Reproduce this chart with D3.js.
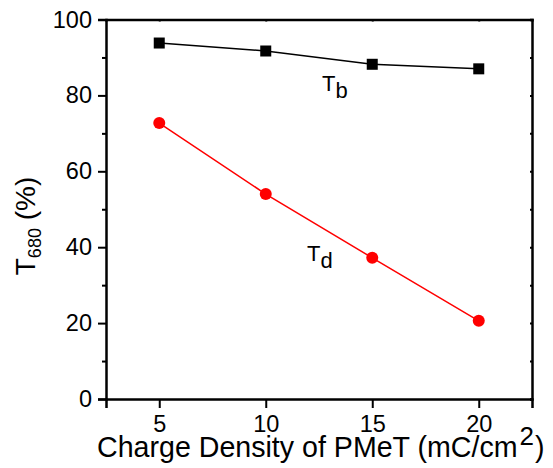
<!DOCTYPE html>
<html>
<head>
<meta charset="utf-8">
<script src="https://cdn.jsdelivr.net/npm/d3@7"></script>
<style>
  body { margin: 0; background: #fff; }
  text { font-family: "Liberation Sans", Arial, sans-serif; fill: #000; }
</style>
</head>
<body>
<div id="chart"></div>
<script>
var charge = [5, 10, 15, 20];
var tb = [93.8, 91.7, 88.2, 87.0];
var td = [72.7, 54.0, 37.2, 20.6];
var xTicks = [5, 10, 15, 20];
var yTicks = [0, 20, 40, 60, 80, 100];
var yMinor = [10, 30, 50, 70, 90];

var width = 553, height = 468;
var margin = {left: 106, right: 21, top: 19.5, bottom: 69};

var svg = d3.select("#chart").append("svg")
    .attr("width", width)
    .attr("height", height);

var x = d3.scaleLinear()
    .domain([2.5, 22.5])
    .range([margin.left, width - margin.right]);

var y = d3.scaleLinear()
    .domain([0, 100])
    .range([height - margin.bottom, margin.top]);

// axes
var gx = svg.append("g")
    .attr("transform", "translate(0," + y(0) + ")")
    .call(d3.axisBottom(x).tickValues(xTicks).tickSize(9).tickPadding(7).tickFormat(d3.format("d")));

var gy = svg.append("g")
    .attr("transform", "translate(" + x(2.5) + ",0)")
    .call(d3.axisLeft(y).tickValues(yTicks).tickSize(8).tickPadding(6).tickFormat(d3.format("d")));

var gyMinor = svg.append("g")
    .attr("transform", "translate(" + x(2.5) + ",0)")
    .call(d3.axisLeft(y).tickValues(yMinor).tickSize(4).tickFormat(""));

var gTop = svg.append("g")
    .attr("transform", "translate(0," + y(100) + ")")
    .call(d3.axisBottom(x).tickValues(xTicks).tickSize(2).tickFormat(""));

var gRight = svg.append("g")
    .attr("transform", "translate(" + x(22.5) + ",0)")
    .call(d3.axisLeft(y).tickValues(yTicks.concat(yMinor)).tickSize(2).tickFormat(""));

[gx, gy, gyMinor, gTop, gRight].forEach(function(g) {
    g.select(".domain").attr("stroke", "#000").attr("stroke-width", 2.5);
    g.selectAll(".tick line").attr("stroke", "#000").attr("stroke-width", 2);
    g.selectAll(".tick text").attr("font-size", 23.5).attr("fill", "#000")
        .attr("font-family", "Liberation Sans, Arial, sans-serif");
});
gyMinor.select(".domain").remove();

// lines
var line = d3.line().x(function(d, i) { return x(charge[i]); }).y(function(d) { return y(d); });

svg.append("path")
    .datum(tb)
    .attr("d", line)
    .attr("fill", "none")
    .attr("stroke", "#000")
    .attr("stroke-width", 1.5);

svg.append("path")
    .datum(td)
    .attr("d", line)
    .attr("fill", "none")
    .attr("stroke", "#ff0000")
    .attr("stroke-width", 1.5);

svg.selectAll(".sq")
    .data(tb)
    .enter().append("rect")
    .attr("x", function(d, i) { return x(charge[i]) - 5.5; })
    .attr("y", function(d) { return y(d) - 5.5; })
    .attr("width", 11)
    .attr("height", 11)
    .attr("fill", "#000");

svg.selectAll(".dot")
    .data(td)
    .enter().append("circle")
    .attr("cx", function(d, i) { return x(charge[i]); })
    .attr("cy", function(d) { return y(d); })
    .attr("r", 6)
    .attr("fill", "#ff0000");

// series labels
var lb = svg.append("text").attr("x", 322).attr("y", 91).attr("font-size", 22);
lb.append("tspan").text("T");
lb.append("tspan").attr("dy", 7).text("b");

var ld = svg.append("text").attr("x", 307).attr("y", 261).attr("font-size", 22);
ld.append("tspan").text("T");
ld.append("tspan").attr("dy", 7).text("d");

// axis titles
var xt = svg.append("text")
    .attr("x", 97)
    .attr("y", 457)
    .attr("font-size", 28.6);
xt.append("tspan").text("Charge Density of PMeT (mC/cm");
xt.append("tspan").attr("dx", 2).attr("dy", -12).attr("font-size", 26).text("2");
xt.append("tspan").attr("dx", 1).attr("dy", 12).text(")");

var yt = svg.append("text")
    .attr("transform", "translate(35,226) rotate(-90)")
    .attr("text-anchor", "middle")
    .attr("font-size", 28);
yt.append("tspan").text("T");
yt.append("tspan").attr("font-size", 18).attr("dy", 6).text("680");
yt.append("tspan").attr("dy", -6).text(" (%)");
</script>
</body>
</html>
